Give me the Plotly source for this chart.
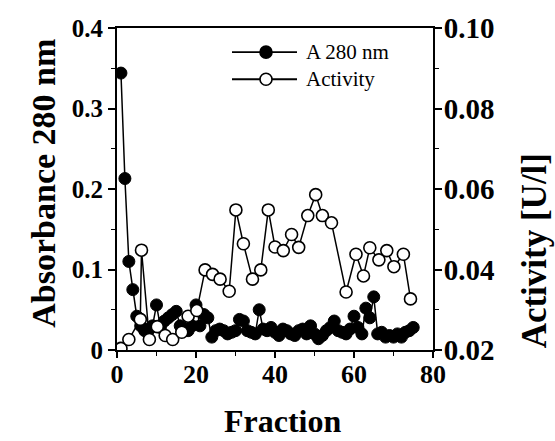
import plotly.graph_objects as go

# ---- data ----
abs_fraction = list(range(1, 76))
abs_280 = [0.344, 0.213, 0.110, 0.075, 0.042, 0.030, 0.024, 0.026, 0.030, 0.056,
           0.028, 0.036, 0.040, 0.044, 0.048, 0.030, 0.026, 0.024, 0.030, 0.056,
           0.030, 0.044, 0.040, 0.016, 0.024, 0.026, 0.024, 0.020, 0.022, 0.024,
           0.038, 0.036, 0.024, 0.022, 0.020, 0.050, 0.026, 0.024, 0.028, 0.022,
           0.018, 0.026, 0.024, 0.020, 0.018, 0.024, 0.026, 0.020, 0.030, 0.020,
           0.014, 0.018, 0.024, 0.028, 0.036, 0.024, 0.022, 0.020, 0.026, 0.042,
           0.028, 0.020, 0.052, 0.040, 0.066, 0.020, 0.022, 0.016, 0.018, 0.016,
           0.020, 0.016, 0.022, 0.024, 0.028]

act_fraction = [1, 3, 5.9, 6.2, 8.2, 10.2, 12.2, 14.1, 16.4, 18, 20.2, 22.3, 24.2,
                26.1, 28.4, 30.1, 32, 34.3, 36.4, 38.3, 40, 42.1, 44.2, 46, 48.3,
                50.3, 52, 54.3, 58, 60.5, 62.4, 64, 66.3, 68.3, 70.1, 72.5, 74.3]
activity = [0.0204, 0.0226, 0.0276, 0.0448, 0.0226, 0.0258, 0.0236, 0.0226, 0.0244,
            0.0284, 0.0298, 0.0399, 0.0388, 0.0376, 0.0346, 0.0548, 0.0464, 0.0376,
            0.0399, 0.0548, 0.0456, 0.0447, 0.0487, 0.0455, 0.0534, 0.0586, 0.0534,
            0.0516, 0.0344, 0.0438, 0.0384, 0.0454, 0.0424, 0.0447, 0.0407, 0.0438,
            0.0327]

x_ticks = [0, 20, 40, 60, 80]
y_ticks = [0, 0.1, 0.2, 0.3, 0.4]
y_ticklabels = ["0", "0.1", "0.2", "0.3", "0.4"]
y2_ticks = [0.02, 0.04, 0.06, 0.08, 0.10]
y2_ticklabels = ["0.02", "0.04", "0.06", "0.08", "0.10"]

series_names = ["A 280 nm", "Activity"]

FONT = "Liberation Serif"

fig = go.Figure()
fig.add_trace(go.Scatter(
    x=abs_fraction, y=abs_280, mode="lines+markers", name=series_names[0],
    line=dict(color="black", width=1.5),
    marker=dict(symbol="circle", size=12, color="black", line=dict(color="black", width=1)),
    yaxis="y", showlegend=False))
fig.add_trace(go.Scatter(
    x=act_fraction, y=activity, mode="lines+markers", name=series_names[1],
    line=dict(color="black", width=1.5),
    marker=dict(symbol="circle", size=12, color="white", line=dict(color="black", width=1.6)),
    yaxis="y2", showlegend=False))

tickfont_l = dict(family=FONT, size=25, color="black", weight="bold")
tickfont_b = dict(family=FONT, size=26, color="black", weight="bold")
tickfont_r = dict(family=FONT, size=29, color="black", weight="bold")

fig.update_layout(
    width=555, height=441,
    margin=dict(l=117, r=122, t=17, b=91),
    paper_bgcolor="white", plot_bgcolor="white",
    font=dict(family=FONT, color="black"),
    xaxis=dict(range=[0, 80], tickvals=x_ticks, ticktext=[str(v) for v in x_ticks],
               showgrid=False, zeroline=False, showline=True, linecolor="black",
               linewidth=2, mirror=True, ticks="outside", ticklen=6, tickwidth=1.5,
               tickcolor="black", tickfont=tickfont_b, ticklabelstandoff=-6,
               minor=dict(dtick=10, ticks="outside", ticklen=4, tickwidth=1.2,
                          tickcolor="black", showgrid=False)),
    yaxis=dict(range=[0, 0.4], tickvals=y_ticks, ticktext=y_ticklabels,
               showgrid=False, zeroline=False, showline=True, linecolor="black",
               linewidth=2, ticks="outside", ticklen=7, tickwidth=1.5,
               tickcolor="black", tickfont=tickfont_l,
               minor=dict(dtick=0.05, ticks="outside", ticklen=4, tickwidth=1.2,
                          tickcolor="black", showgrid=False)),
    yaxis2=dict(range=[0.02, 0.10], tickvals=y2_ticks, ticktext=y2_ticklabels,
                overlaying="y", side="right",
                showgrid=False, zeroline=False, showline=True, linecolor="black",
                linewidth=2, ticks="outside", ticklen=7, tickwidth=1.5,
                tickcolor="black", tickfont=tickfont_r, ticklabelstandoff=-4,
                minor=dict(dtick=0.01, ticks="outside", ticklen=4, tickwidth=1.2,
                           tickcolor="black", showgrid=False)),
)


def px_x(p):
    return (p - 117) / 316


def px_y(p):
    return (350 - p) / 333


# axis titles
fig.add_annotation(text="<b>Fraction</b>", xref="paper", yref="paper",
                   x=px_x(283), y=px_y(423), xanchor="center",
                   yanchor="middle", showarrow=False,
                   font=dict(family=FONT, size=32, color="black"))
fig.add_annotation(text="<b>Absorbance 280 nm</b>", xref="paper", yref="paper",
                   x=px_x(44), y=px_y(178), xanchor="center",
                   yanchor="middle", textangle=-90, showarrow=False,
                   font=dict(family=FONT, size=34, color="black"))
fig.add_annotation(text="<b>Activity [U/l]</b>", xref="paper", yref="paper",
                   x=px_x(534), y=px_y(248), xanchor="center",
                   yanchor="middle", textangle=-90, showarrow=False,
                   font=dict(family=FONT, size=35, color="black"))

# legend drawn manually
legend_rows = [(42, "black", series_names[0]), (70, "white", series_names[1])]
for py, fill, label in legend_rows:
    fig.add_shape(type="line", xref="paper", yref="paper",
                  x0=px_x(232), x1=px_x(297), y0=px_y(py), y1=px_y(py),
                  line=dict(color="black", width=1.8))
    fig.add_shape(type="circle", xref="paper", yref="paper",
                  xsizemode="pixel", ysizemode="pixel",
                  xanchor=px_x(266), yanchor=px_y(py),
                  x0=-6, x1=6, y0=-6, y1=6,
                  fillcolor=fill, line=dict(color="black", width=1.6))
    fig.add_annotation(text=label, xref="paper", yref="paper",
                       x=px_x(304), y=px_y(py), xanchor="left", yanchor="middle",
                       showarrow=False,
                       font=dict(family=FONT, size=21, color="black"))

fig.write_html("out.html")
